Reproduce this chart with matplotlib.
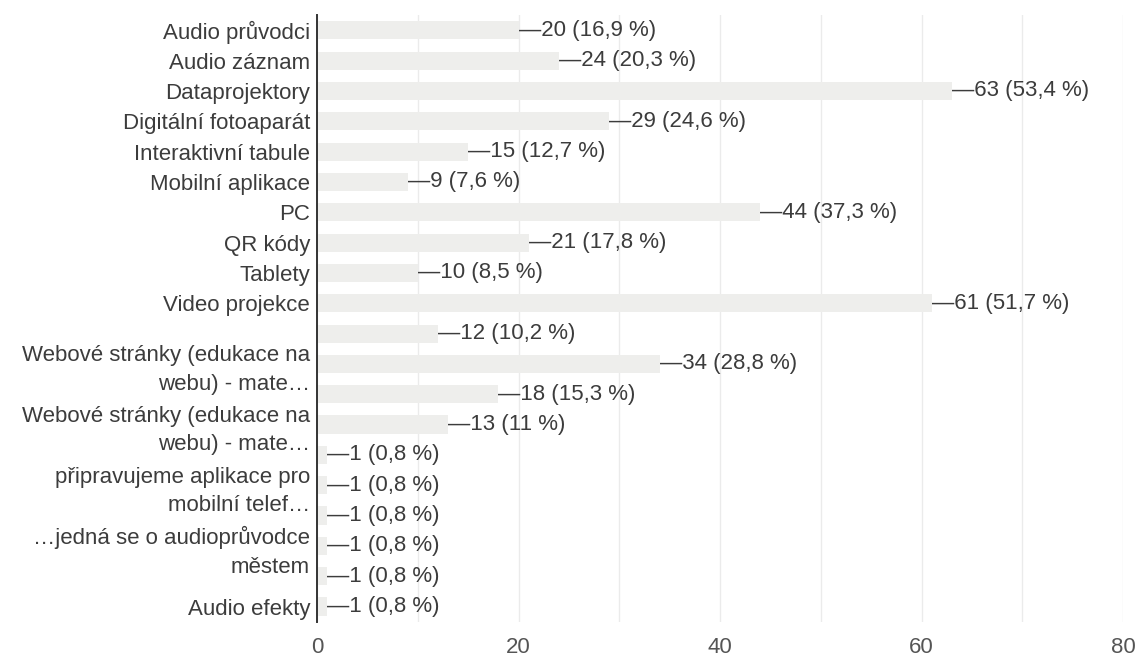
import matplotlib
matplotlib.use("Agg")
import matplotlib.pyplot as plt
from matplotlib.ticker import MultipleLocator

plt.rcParams['font.family'] = ['Liberation Sans', 'DejaVu Sans']

# answers (top to bottom); blank labels are rows whose names are not shown
labels = [
    "Audio průvodci",
    "Audio záznam",
    "Dataprojektory",
    "Digitální fotoaparát",
    "Interaktivní tabule",
    "Mobilní aplikace",
    "PC",
    "QR kódy",
    "Tablety",
    "Video projekce",
    "",
    "Webové stránky (edukace na\nwebu) - mate…",
    "",
    "Webové stránky (edukace na\nwebu) - mate…",
    "",
    "připravujeme aplikace pro\nmobilní telef…",
    "",
    "…jedná se o audioprůvodce\nměstem",
    "",
    "Audio efekty",
]
counts = [20, 24, 63, 29, 15, 9, 44, 21, 10, 61, 12, 34, 18, 13, 1, 1, 1, 1, 1, 1]
percents = ["16,9", "20,3", "53,4", "24,6", "12,7", "7,6", "37,3", "17,8", "8,5",
            "51,7", "10,2", "28,8", "15,3", "11", "0,8", "0,8", "0,8", "0,8",
            "0,8", "0,8"]

text_col = "#3c3c3c"
fs = 16

fig = plt.figure(figsize=(11.39, 6.6), dpi=100)
ax = fig.add_axes([0.2783, 0.058, 0.7077, 0.919])

ypos = list(range(len(counts)))
ax.barh(ypos, counts, height=0.6, color="#eeeeec", zorder=2)

for y, c, p in zip(ypos, counts, percents):
    ax.text(c, y, "—%d (%s %%)" % (c, p), va="center", ha="left",
            fontsize=fs, color=text_col, zorder=3)

ax.set_xlim(0, 80)
ax.set_ylim(len(counts) - 0.5, -0.5)
ax.xaxis.set_major_locator(MultipleLocator(20))
ax.xaxis.set_minor_locator(MultipleLocator(10))
ax.grid(axis="x", which="both", color="#ebebeb", linewidth=1, zorder=0)

ax.set_yticks(ypos)
ax.set_yticklabels(labels, linespacing=1.45)
ax.tick_params(axis="y", length=0, pad=5, labelsize=fs, labelcolor=text_col)
ax.tick_params(axis="x", which="both", length=0, pad=11, labelsize=fs,
               labelcolor="#555555")

for side in ("top", "right", "bottom"):
    ax.spines[side].set_visible(False)
ax.spines["left"].set_color("#333333")
ax.spines["left"].set_linewidth(1.4)
ax.spines["left"].set_zorder(4)

fig.savefig("out.png", dpi=100)
